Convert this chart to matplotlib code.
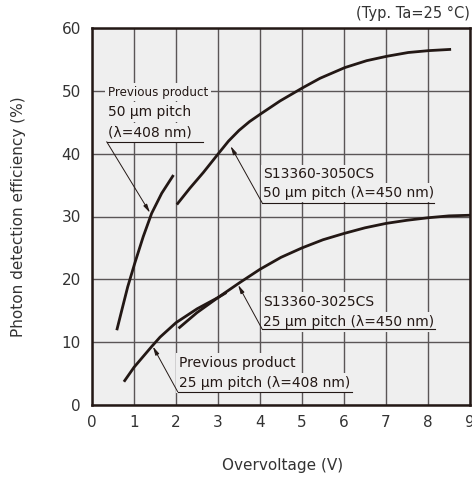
import numpy as np
import matplotlib.pyplot as plt

# Photon detection efficiency (%) vs overvoltage (V)
prev50_v = [0.59, 0.71, 0.85, 1.02, 1.22, 1.42, 1.66, 1.94]
prev50_pde = [11.9, 15.1, 18.8, 22.6, 26.8, 30.5, 33.7, 36.6]

s3050_v = [2.02, 2.33, 2.65, 3.02, 3.25, 3.50, 3.75, 4.01, 4.48, 5.02, 5.43, 6.02, 6.54, 7.02, 7.53, 8.02, 8.55]
s3050_pde = [31.9, 34.5, 37.0, 40.1, 42.0, 43.7, 45.1, 46.3, 48.4, 50.5, 52.0, 53.7, 54.8, 55.5, 56.1, 56.4, 56.6]

prev25_v = [0.76, 1.00, 1.42, 1.62, 2.00, 2.50, 3.00, 3.20]
prev25_pde = [3.7, 6.0, 9.3, 10.8, 13.1, 15.3, 17.1, 17.9]

s3025_v = [2.06, 2.50, 3.00, 3.50, 4.00, 4.50, 5.00, 5.50, 6.00, 6.50, 7.00, 7.50, 8.00, 8.50, 9.00]
s3025_pde = [12.2, 14.7, 17.1, 19.4, 21.6, 23.5, 25.0, 26.3, 27.3, 28.2, 28.9, 29.4, 29.8, 30.1, 30.2]

x_ticks = list(range(0, 10))
y_ticks = list(range(0, 61, 10))

BG = '#efefef'
INK = '#231815'
GRID = '#5a5556'
TXT = '#333333'

fig = plt.figure(figsize=(4.72, 4.8), dpi=100)
ax = fig.add_axes([92 / 472, 1 - 405 / 480, (470 - 92) / 472, (405 - 28) / 480])
ax.set_facecolor(BG)

for v, p in [(prev50_v, prev50_pde), (s3050_v, s3050_pde),
             (prev25_v, prev25_pde), (s3025_v, s3025_pde)]:
    ax.plot(v, p, color=INK, lw=2.0, solid_capstyle='butt', solid_joinstyle='round', zorder=3)

ax.set_xlim(0, 9)
ax.set_ylim(0, 60)
ax.set_xticks(x_ticks)
ax.set_yticks(y_ticks)
ax.grid(True, color=GRID, lw=1.0)
ax.set_axisbelow(True)
ax.tick_params(length=0, labelsize=11, colors=TXT)
ax.tick_params(axis='x', pad=7)
ax.tick_params(axis='y', pad=8)
for s in ax.spines.values():
    s.set_linewidth(1.8)
    s.set_color(INK)

ax.set_xlabel('Overvoltage (V)', fontsize=11, color=TXT)
ax.set_ylabel('Photon detection efficiency (%)', fontsize=11, color=TXT)
ax.xaxis.set_label_coords(0.503, -0.14)
ax.yaxis.set_label_coords(-0.175, 0.5)
fig.text(0.996, 0.971, '(Typ. Ta=25 °C)', ha='right', va='center', fontsize=10.5, color=TXT)

box = dict(facecolor=BG, edgecolor='none', pad=2.0)
arrow = dict(arrowstyle='-|>,head_length=0.5,head_width=0.12', color=INK, lw=0.7,
             shrinkA=0, shrinkB=0)


def callout(lines, x, ys, ux1, uy, tip, sizes=None):
    sizes = sizes or [10] * len(lines)
    for t, y, fs in zip(lines, ys, sizes):
        ax.text(x, y, t, fontsize=fs, color=INK, ha='left', va='center', bbox=box, zorder=4)
    ux0 = x - 0.03
    ax.plot([ux0, ux1], [uy, uy], color=INK, lw=0.8, zorder=4)
    ax.annotate('', xy=tip, xytext=(ux0, uy), arrowprops=arrow, zorder=4)


callout(['Previous product', '50 µm pitch', '(λ=408 nm)'], 0.38, [49.8, 46.6, 43.4],
        2.64, 41.9, (1.38, 30.6), sizes=[8.6, 10, 10])
callout(['S13360-3050CS', '50 µm pitch (λ=450 nm)'], 4.08, [36.7, 33.8],
        8.14, 32.2, (3.30, 41.2))
callout(['S13360-3025CS', '25 µm pitch (λ=450 nm)'], 4.08, [16.4, 13.2],
        8.17, 12.1, (3.48, 19.1))
callout(['Previous product', '25 µm pitch (λ=408 nm)'], 2.07, [6.7, 3.5],
        6.19, 2.1, (1.45, 9.3))

fig.savefig('out.png', dpi=100)
